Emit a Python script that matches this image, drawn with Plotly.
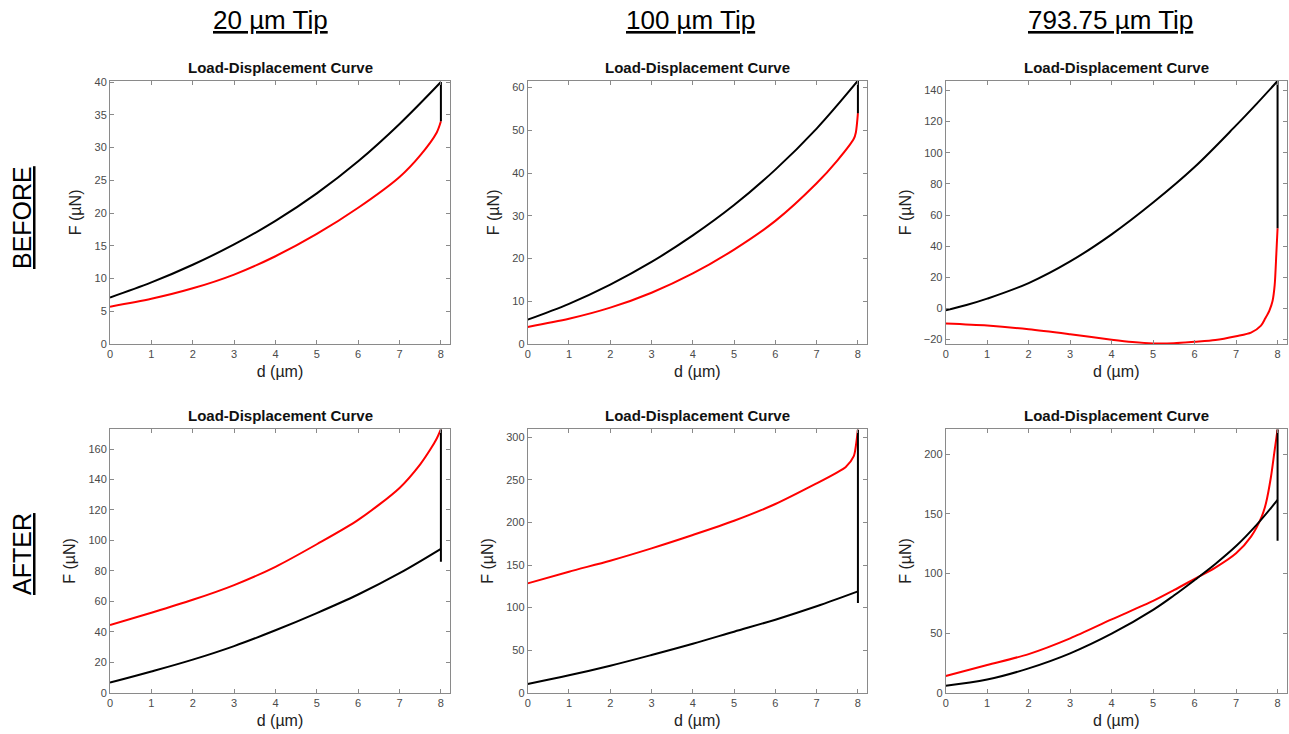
import plotly.graph_objects as go

# ---------------- data ----------------
tips = ["20 µm Tip", "100 µm Tip", "793.75 µm Tip"]
rows = ["BEFORE", "AFTER"]
y_ranges = [[0, 40.2], [0, 61.6], [-22.8, 146.2], [0, 173], [0, 309.5], [0, 221]]
y_dticks = [5, 10, 20, 20, 50, 50]
x_ticks = [0, 1, 2, 3, 4, 5, 6, 7, 8]

# panel 1: 20 µm, before
p1_ax = [0, 1, 2, 3, 4, 5, 6, 7, 8]
p1_af = [7.1, 9.4, 12.1, 15.2, 18.8, 23.0, 27.9, 33.6, 40.0]
p1_hold = [40.0, 34.0]
p1_rx = [8, 7.9, 7.5, 7, 6, 5, 4, 3, 2, 1, 0]
p1_rf = [34.0, 32.3, 28.8, 25.5, 20.8, 16.8, 13.4, 10.6, 8.5, 6.9, 5.7]

# panel 2: 100 µm, before
p2_ax = [0, 1, 2, 3, 4, 5, 6, 7, 8]
p2_af = [5.7, 9.4, 13.9, 19.2, 25.4, 32.5, 40.8, 50.4, 61.6]
p2_hold = [61.6, 54.0]
p2_rx = [8, 7.95, 7.9, 7.5, 7, 6, 5, 4, 3, 2, 1, 0]
p2_rf = [54.0, 49.5, 48.0, 42.9, 37.6, 28.8, 22.1, 16.5, 12.0, 8.5, 5.9, 4.0]

# panel 3: 793.75 µm, before
p3_ax = [0, 0.5, 1, 2, 3, 4, 5, 6, 7, 7.5, 8]
p3_af = [-1.2, 2.2, 6.3, 16.3, 30.2, 47.6, 68.0, 90.8, 117.5, 131.5, 146.0]
p3_hold = [146.0, 51.5]
p3_rx = [8, 7.97, 7.93, 7.88, 7.8, 7.7, 7.6, 7.36, 7, 6.5, 6, 5.5, 5, 4.5, 4, 3, 2, 1, 0]
p3_rf = [51.5, 35.0, 15.0, 5.0, -1.5, -6.5, -11.0, -15.5, -17.8, -20.3, -21.4, -22.3, -22.4, -21.5, -20.0, -16.5, -13.3, -11.0, -9.7]

# panel 4: 20 µm, after
p4_ax = [0, 1, 2, 3, 4, 5, 6, 7, 8]
p4_af = [6.6, 13.9, 21.7, 30.6, 41.0, 52.3, 64.5, 78.5, 94.5]
p4_hold = [94.5, 86.0, 173.0]
p4_rx = [8, 7.9, 7.75, 7.5, 7, 6, 5, 4, 3, 2, 1, 0]
p4_rf = [173.0, 167.0, 160.0, 150.0, 134.5, 113.5, 97.5, 82.7, 70.7, 61.0, 52.5, 44.4]

# panel 5: 100 µm, after
p5_ax = [0, 1, 2, 3, 4, 5, 6, 7, 8]
p5_af = [10.2, 20.4, 31.7, 44.3, 57.5, 71.7, 85.8, 101.5, 119.0]
p5_hold = [119.0, 105.5, 309.0]
p5_rx = [8, 7.95, 7.9, 7.7, 7.5, 7, 6, 5, 4, 3, 2, 1, 0]
p5_rf = [309.0, 290.0, 278.0, 265.0, 259.0, 246.0, 221.7, 202.0, 185.3, 169.6, 155.1, 142.2, 128.5]

# panel 6: 793.75 µm, after
p6_ax = [0, 1, 2, 3, 4, 5, 5.5, 6, 6.5, 7, 7.5, 8]
p6_af = [5.9, 11.0, 20.4, 33.0, 49.5, 69.5, 81.5, 94.5, 108.0, 123.0, 141.0, 161.7]
p6_hold = [161.7, 127.5, 221.0]
p6_rx = [8, 7.92, 7.84, 7.72, 7.62, 7.36, 7, 6.5, 6, 5.5, 5, 4, 3, 2, 1, 0]
p6_rf = [221.0, 201.0, 181.0, 159.0, 148.0, 131.0, 117.0, 105.0, 95.5, 86.0, 77.0, 61.5, 45.6, 32.4, 23.2, 14.0]

panels = [
    (p1_ax, p1_af, p1_hold, p1_rx, p1_rf),
    (p2_ax, p2_af, p2_hold, p2_rx, p2_rf),
    (p3_ax, p3_af, p3_hold, p3_rx, p3_rf),
    (p4_ax, p4_af, p4_hold, p4_rx, p4_rf),
    (p5_ax, p5_af, p5_hold, p5_rx, p5_rf),
    (p6_ax, p6_af, p6_hold, p6_rx, p6_rf),
]

# ---------------- layout geometry (pixels) ----------------
W, H = 1289, 734
col_px = [(110, 450), (527.7, 867), (945.7, 1286.7)]
row_px = [(80.7, 344), (429.3, 692.7)]
FONT = "Liberation Sans, Arial, sans-serif"
AX_COLOR = "#8a8a8a"
TICK_COLOR = "#4a4a4a"

fig = go.Figure()
layout = dict(width=W, height=H, margin=dict(l=0, r=0, t=0, b=0, autoexpand=False),
              paper_bgcolor="white", plot_bgcolor="white", showlegend=False,
              font=dict(family=FONT))
annotations = []

for i, (ax, af, hold, rx, rf) in enumerate(panels):
    r, c = divmod(i, 3)
    n = i + 1
    xa = "x" if n == 1 else f"x{n}"
    ya = "y" if n == 1 else f"y{n}"
    x0, x1 = col_px[c]
    y0, y1 = row_px[r]
    dom_x = [x0 / W, x1 / W]
    dom_y = [1 - y1 / H, 1 - y0 / H]

    # retract (red)
    fig.add_trace(go.Scatter(x=rx, y=rf, mode="lines", xaxis=xa, yaxis=ya,
                             line=dict(color="#ff0000", width=2, shape="spline", smoothing=0.8)))
    # approach (black)
    fig.add_trace(go.Scatter(x=ax, y=af, mode="lines", xaxis=xa, yaxis=ya,
                             line=dict(color="#000000", width=2, shape="spline", smoothing=1.0)))
    # hold segment at max displacement (black)
    fig.add_trace(go.Scatter(x=[ax[-1]] * len(hold), y=hold, mode="lines", xaxis=xa, yaxis=ya,
                             line=dict(color="#000000", width=2)))

    axis_common = dict(showline=True, linecolor=AX_COLOR, linewidth=1, mirror="ticks",
                       ticks="inside", ticklen=4, tickcolor=AX_COLOR, showgrid=False,
                       zeroline=False, automargin=False,
                       tickfont=dict(size=11, color=TICK_COLOR, family=FONT))
    layout["xaxis" if n == 1 else f"xaxis{n}"] = dict(
        domain=dom_x, anchor=ya, range=[0, 8.22], tickmode="array", tickvals=x_ticks,
        title=dict(text="d (µm)", font=dict(size=16, color="#222222"), standoff=6),
        **axis_common)
    layout["yaxis" if n == 1 else f"yaxis{n}"] = dict(
        domain=dom_y, anchor=xa, range=y_ranges[i], dtick=y_dticks[i], tick0=0,
        title=dict(text="F (µN)", font=dict(size=16, color="#222222"), standoff=8),
        **axis_common)

    annotations.append(dict(text="<b>Load-Displacement Curve</b>", xref="paper", yref="paper",
                            x=(x0 + x1) / 2 / W, y=1 - (y0 - 3) / H, xanchor="center",
                            yanchor="bottom", showarrow=False,
                            font=dict(size=15, color="#111111", family=FONT)))

header_x = [270, 690, 1110]
for t, hx in zip(tips, header_x):
    annotations.append(dict(text=f"<u>{t}</u>", xref="paper", yref="paper",
                            x=hx / W, y=1 - 20 / H, xanchor="center", yanchor="middle",
                            showarrow=False, font=dict(size=26, color="#000000", family=FONT)))

row_y = [218, 554]
for t, ry in zip(rows, row_y):
    annotations.append(dict(text=f"<u>{t}</u>", xref="paper", yref="paper",
                            x=22 / W, y=1 - ry / H, xanchor="center", yanchor="middle",
                            textangle=-90, showarrow=False,
                            font=dict(size=25, color="#000000", family=FONT)))

layout["annotations"] = annotations
fig.update_layout(**layout)
fig.write_html("out.html", config={"displayModeBar": False},
               post_script="document.body.style.margin='0';document.body.style.overflow='hidden';")
